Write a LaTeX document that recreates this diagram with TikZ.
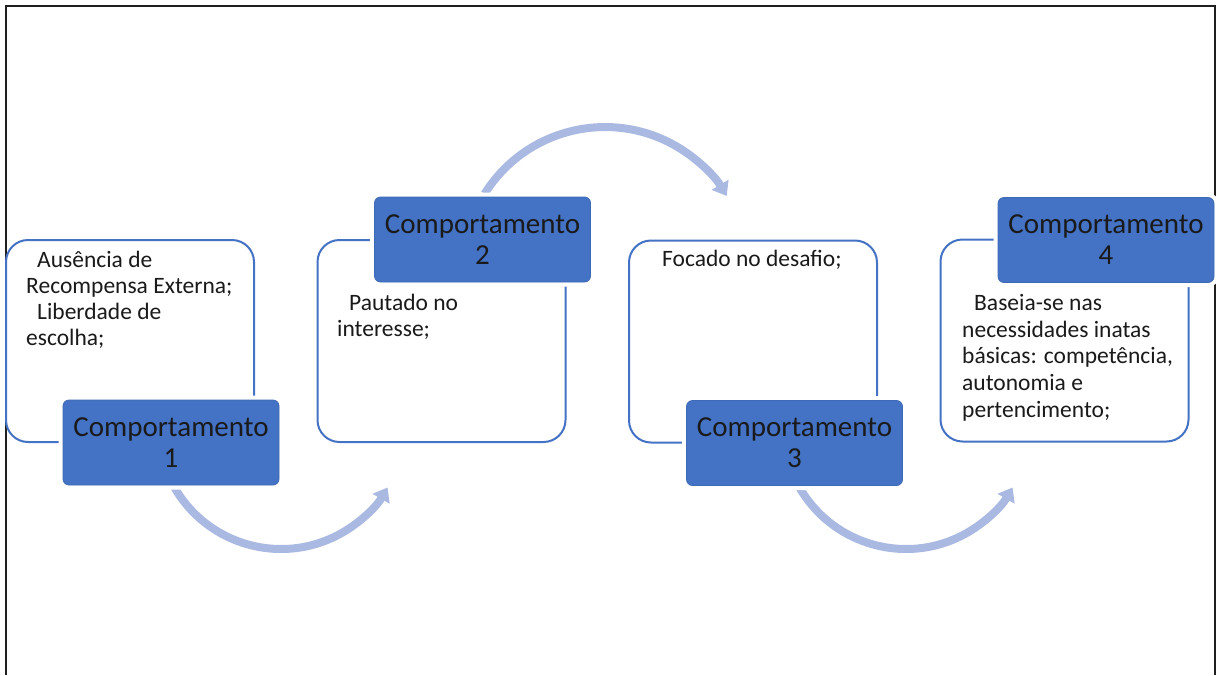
\documentclass[tikz,border=0pt]{standalone}
\usepackage{fontspec}
\setmainfont{Carlito}
\usetikzlibrary{arrows.meta}
\definecolor{accent}{HTML}{4472C4}
\definecolor{arrowblue}{HTML}{A9B9E1}
\definecolor{inktext}{HTML}{1A1A1A}

\begin{document}
\begin{tikzpicture}[x=1pt,y=-1pt,
  frameline/.style={line width=2.2pt, draw=black!88},
  notebox/.style={draw=accent, line width=2pt, rounded corners=22pt, fill=white,
    minimum width=248pt, minimum height=202pt, inner sep=0pt},
  titlebox/.style={fill=accent, draw=accent!92!black, line width=0.8pt,
    rounded corners=6pt, minimum width=216pt, minimum height=85pt, inner sep=0pt,
    preaction={draw=white, line width=9pt},
    align=center, text=inktext, font=\fontsize{29}{31}\selectfont},
  bodytext/.style={anchor=base west, inner sep=0pt, text=inktext,
    font=\fontsize{23.5}{#1}\selectfont},
  bodytext/.default=26.7,
  flowarrow/.style={draw=arrowblue, line width=8pt,
    -{Triangle[width=19pt,length=13pt]}}
]
\useasboundingbox (0,0) rectangle (1217,675);

% outer frame, open at the bottom
\coordinate (frBL) at (6,675);
\coordinate (frTL) at (6,6);
\coordinate (frTR) at (1215,6);
\coordinate (frBR) at (1215,675);
\draw[frameline] (frBL) -- (frTL) -- (frTR) -- (frBR);

% curved arrows between the stages
\coordinate (a1s) at (174.5,487.5);
\coordinate (a2s) at (484.6,193.8);
\coordinate (a3s) at (799.5,487.5);
\draw[flowarrow] (a1s) arc[start angle=150, end angle=30, radius=123];
\draw[flowarrow] (a2s) arc[start angle=212, end angle=329, radius=142];
\draw[flowarrow] (a3s) arc[start angle=150, end angle=30, radius=123];

% description boxes
\node[notebox] (n1) at (130,341) {};
\node[notebox] (n2) at (441.5,341) {};
\node[notebox] (n3) at (753,341.5) {};
\node[notebox] (n4) at (1064.5,340.5) {};

% stage titles
\node[titlebox] (t1) at (171,442.5) {Comportamento\\1};
\node[titlebox] (t2) at (482.5,239.5) {Comportamento\\2};
\node[titlebox] (t3) at (794.5,443) {Comportamento\\3};
\node[titlebox] (t4) at (1106,240) {Comportamento\\4};

% box contents
\node[bodytext=26] (d1) at (26,267) {\begin{tabular}[t]{@{}l@{}}
  \hspace{11pt}Ausência de\\
  Recompensa Externa;\\
  \hspace{11pt}Liberdade de\\
  escolha;\end{tabular}};
\node[bodytext] (d2) at (337,310) {\begin{tabular}[t]{@{}l@{}}
  \hspace{12pt}Pautado no\\
  interesse;\end{tabular}};
\node[bodytext] (d3) at (662,266.5) {Focado no desafio;};
\node[bodytext] (d4) at (962,310.5) {\begin{tabular}[t]{@{}l@{}}
  \hspace{12pt}Baseia-se nas\\
  necessidades inatas\\
  básicas: competência,\\
  autonomia e\\
  pertencimento;\end{tabular}};
\end{tikzpicture}
\end{document}
